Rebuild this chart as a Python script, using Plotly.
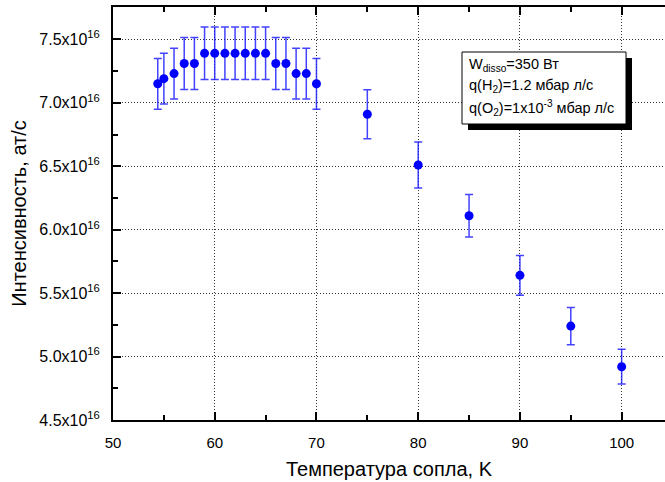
import plotly.graph_objects as go

# Nozzle temperature, K
temperature = [54.4, 55, 56, 57, 58, 59, 60, 61, 62, 63, 64, 65, 66, 67, 68, 69, 70,
               75, 80, 85, 90, 95, 100]
# Intensity, units of 1e16 at/s
intensity = [7.15, 7.19, 7.23, 7.31, 7.31, 7.39, 7.39, 7.39, 7.39, 7.39, 7.39, 7.39,
             7.31, 7.31, 7.23, 7.23, 7.15, 6.91, 6.51, 6.11, 5.64, 5.24, 4.92]
# Error, units of 1e16 at/s
intensity_err = [0.20, 0.20, 0.20, 0.205, 0.205, 0.207, 0.207, 0.207, 0.207, 0.207,
                 0.207, 0.207, 0.205, 0.205, 0.20, 0.20, 0.20, 0.193, 0.182, 0.167,
                 0.157, 0.146, 0.137]

x_ticks = [50, 60, 70, 80, 90, 100]
y_ticks = [4.5, 5.0, 5.5, 6.0, 6.5, 7.0, 7.5]
y_tick_text = [f"{v:.1f}x10<sup>16</sup>" for v in y_ticks]

info_lines = [
    "W<sub>disso</sub>=350 Вт",
    "q(H<sub>2</sub>)=1.2 мбар л/с",
    "q(O<sub>2</sub>)=1x10<sup>-3</sup> мбар л/с",
]

W, H = 665, 482
ML, MR, MT, MB = 113, 0, 7, 62
PW, PH = W - ML - MR, H - MT - MB


def px_x(p):
    return (p - ML) / PW


def px_y(p):
    return (H - MB - p) / PH


FONT = "Liberation Sans, Arial, sans-serif"

fig = go.Figure()
fig.add_trace(go.Scatter(
    x=temperature, y=intensity, mode="markers",
    marker=dict(color="#0000ff", size=9, symbol="circle"),
    error_y=dict(type="data", array=intensity_err, visible=True,
                 color="rgba(20,20,255,0.8)", thickness=1.5, width=4),
    showlegend=False,
))

axis_common = dict(
    showline=True, linecolor="black", linewidth=2,
    ticks="inside", ticklen=8, tickwidth=1.5, tickcolor="black",
    showgrid=True, gridcolor="#333333", gridwidth=1, griddash="1px,2px",
    zeroline=False,
    ticklabelstandoff=8,
)

fig.update_xaxes(
    **axis_common,
    tickfont=dict(family=FONT, size=15, color="black"),
    range=[50, 104.26], tickmode="array", tickvals=x_ticks,
    mirror="ticks",
    minor=dict(ticks="inside", ticklen=5, tickwidth=1.5, tickcolor="black",
               tickmode="linear", tick0=50, dtick=5, showgrid=False),
    title=dict(text="Температура сопла, K", standoff=12,
               font=dict(family=FONT, size=20, color="black")),
)
fig.update_yaxes(
    **axis_common,
    tickfont=dict(family=FONT, size=16, color="black"),
    range=[4.5, 7.755], tickmode="array", tickvals=y_ticks, ticktext=y_tick_text,
    minor=dict(ticks="inside", ticklen=5, tickwidth=1.5, tickcolor="black",
               tickmode="linear", tick0=4.5, dtick=0.25, showgrid=False),
    title=dict(text="Интенсивность, ат/с", standoff=7,
               font=dict(family=FONT, size=20, color="black")),
)

# Info box with a drop shadow
fig.add_shape(type="rect", xref="paper", yref="paper",
              x0=px_x(468), x1=px_x(632), y0=px_y(130), y1=px_y(58),
              fillcolor="black", line=dict(width=0))
fig.add_shape(type="rect", xref="paper", yref="paper",
              x0=px_x(462), x1=px_x(626), y0=px_y(124), y1=px_y(52),
              fillcolor="white", line=dict(color="black", width=1))
for text, yc in zip(info_lines, [65, 86, 108]):
    fig.add_annotation(text=text, xref="paper", yref="paper",
                       x=px_x(467), y=px_y(yc), xanchor="left", yanchor="middle",
                       showarrow=False,
                       font=dict(family=FONT, size=14.5, color="black"))

fig.update_layout(
    width=W, height=H,
    margin=dict(l=ML, r=MR, t=MT, b=MB, autoexpand=False),
    paper_bgcolor="white", plot_bgcolor="white",
)

fig.write_html("out.html")
